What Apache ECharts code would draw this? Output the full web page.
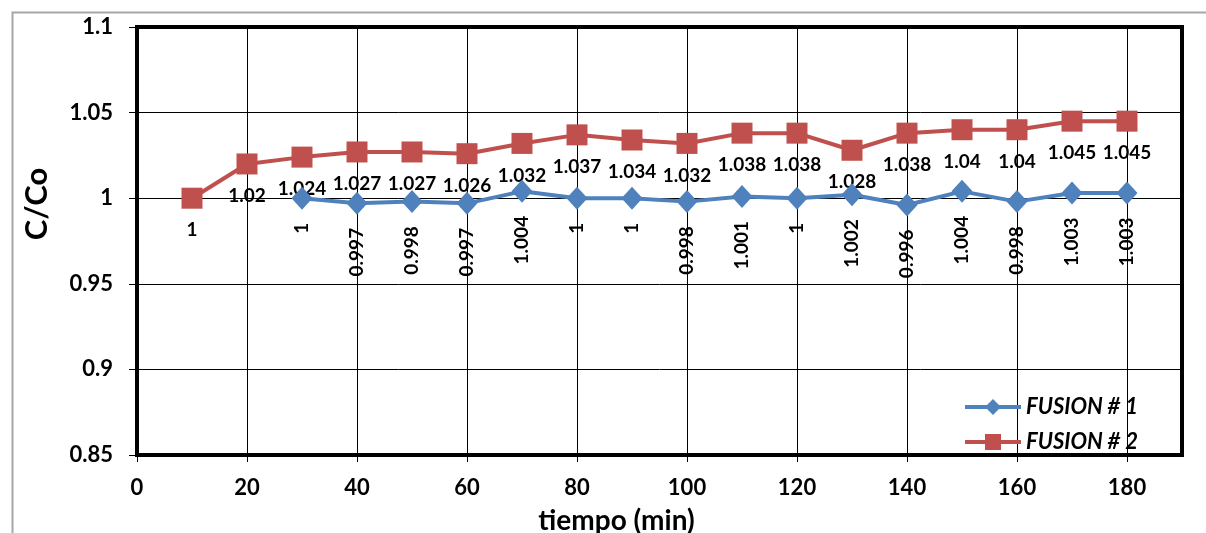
<!DOCTYPE html>
<html>
<head>
<meta charset="utf-8">
<script src="https://cdn.jsdelivr.net/npm/echarts@6/dist/echarts.min.js"></script>
<style>
html,body{margin:0;padding:0;background:#fff;}
#c{width:1206px;height:533px;}
</style>
</head>
<body>
<div id="c"></div>
<script>
var fusion1Times = [30, 40, 50, 60, 70, 80, 90, 100, 110, 120, 130, 140, 150, 160, 170, 180];
var fusion1Values = [1, 0.997, 0.998, 0.997, 1.004, 1, 1, 0.998, 1.001, 1, 1.002, 0.996, 1.004, 0.998, 1.003, 1.003];
var fusion2Times = [10, 20, 30, 40, 50, 60, 70, 80, 90, 100, 110, 120, 130, 140, 150, 160, 170, 180];
var fusion2Values = [1, 1.02, 1.024, 1.027, 1.027, 1.026, 1.032, 1.037, 1.034, 1.032, 1.038, 1.038, 1.028, 1.038, 1.04, 1.04, 1.045, 1.045];
var seriesNames = ['FUSION # 1', 'FUSION # 2'];

function pairs(xs, ys) { return xs.map(function (x, i) { return [x, ys[i]]; }); }

var FONT = 'Lato, "Open Sans", sans-serif';
var chart = echarts.init(document.getElementById('c'), null, {renderer: 'canvas'});
chart.setOption({
  backgroundColor: '#fff',
  animation: false,
  graphic: [{
    type: 'rect', left: 10, top: 10, silent: true, z: -10,
    shape: {x: 0, y: 0, width: 1220, height: 540},
    style: {fill: 'none', stroke: '#a6a6a6', lineWidth: 2}
  }],
  grid: {left: 137, right: 24, top: 27, bottom: 78, show: true, borderColor: '#000', borderWidth: 4,
    backgroundColor: 'transparent', z: 5, containLabel: false, outerBoundsMode: 'none'},
  legend: {
    orient: 'vertical', left: 958, top: 391, itemGap: 13, itemWidth: 56, itemHeight: 20,
    data: seriesNames,
    lineStyle: {width: 4},
    textStyle: {fontFamily: FONT, fontSize: 22, fontWeight: 'bold', fontStyle: 'italic', color: '#000'}
  },
  xAxis: {
    type: 'value', min: 0, max: 190, interval: 20,
    name: 'tiempo (min)', nameLocation: 'middle', nameGap: 52,
    nameTextStyle: {fontFamily: FONT, fontSize: 28, fontWeight: 'bold', color: '#000', padding: [0, 86, 0, 0]},
    axisLine: {show: false},
    axisTick: {show: true, length: 7, inside: false, lineStyle: {color: '#000', width: 1}},
    axisLabel: {showMaxLabel: false, margin: 22, fontFamily: FONT, fontSize: 22, fontWeight: 'bold', color: '#000'},
    splitLine: {show: true, lineStyle: {color: '#000', width: 1}}
  },
  yAxis: {
    type: 'value', min: 0.85, max: 1.1, interval: 0.05,
    name: 'C/Co', nameLocation: 'middle', nameGap: 85,
    nameTextStyle: {fontFamily: FONT, fontSize: 31, fontWeight: 'bold', color: '#000', padding: [0, 0, 0, 74]},
    axisLine: {show: false},
    axisTick: {show: true, length: 8, lineStyle: {color: '#000', width: 1}},
    axisLabel: {margin: 24, fontFamily: FONT, fontSize: 22, fontWeight: 'bold', color: '#000',
      formatter: function (v) { return String(+v.toFixed(2)); }},
    splitLine: {show: true, lineStyle: {color: '#000', width: 1}}
  },
  series: [{
    name: seriesNames[0], type: 'line', data: pairs(fusion1Times, fusion1Values),
    color: '#4F81BD', symbol: 'diamond', symbolSize: [21, 23], z: 3,
    lineStyle: {width: 4, color: '#4F81BD'}, itemStyle: {color: '#4F81BD'},
    label: {show: true, position: 'bottom', distance: 13, rotate: 90, align: 'right', verticalAlign: 'middle',
      fontFamily: FONT, fontSize: 19, fontWeight: 'bold', color: '#000',
      formatter: function (p) { return String(p.value[1]); }}
  }, {
    name: seriesNames[1], type: 'line', data: pairs(fusion2Times, fusion2Values),
    color: '#C0504D', symbol: 'rect', symbolSize: 21, z: 2,
    lineStyle: {width: 4, color: '#C0504D'}, itemStyle: {color: '#C0504D'},
    label: {show: true, position: 'bottom', distance: 12,
      fontFamily: FONT, fontSize: 19, fontWeight: 'bold', color: '#000',
      formatter: function (p) { return String(p.value[1]); }}
  }]
});
</script>
</body>
</html>
